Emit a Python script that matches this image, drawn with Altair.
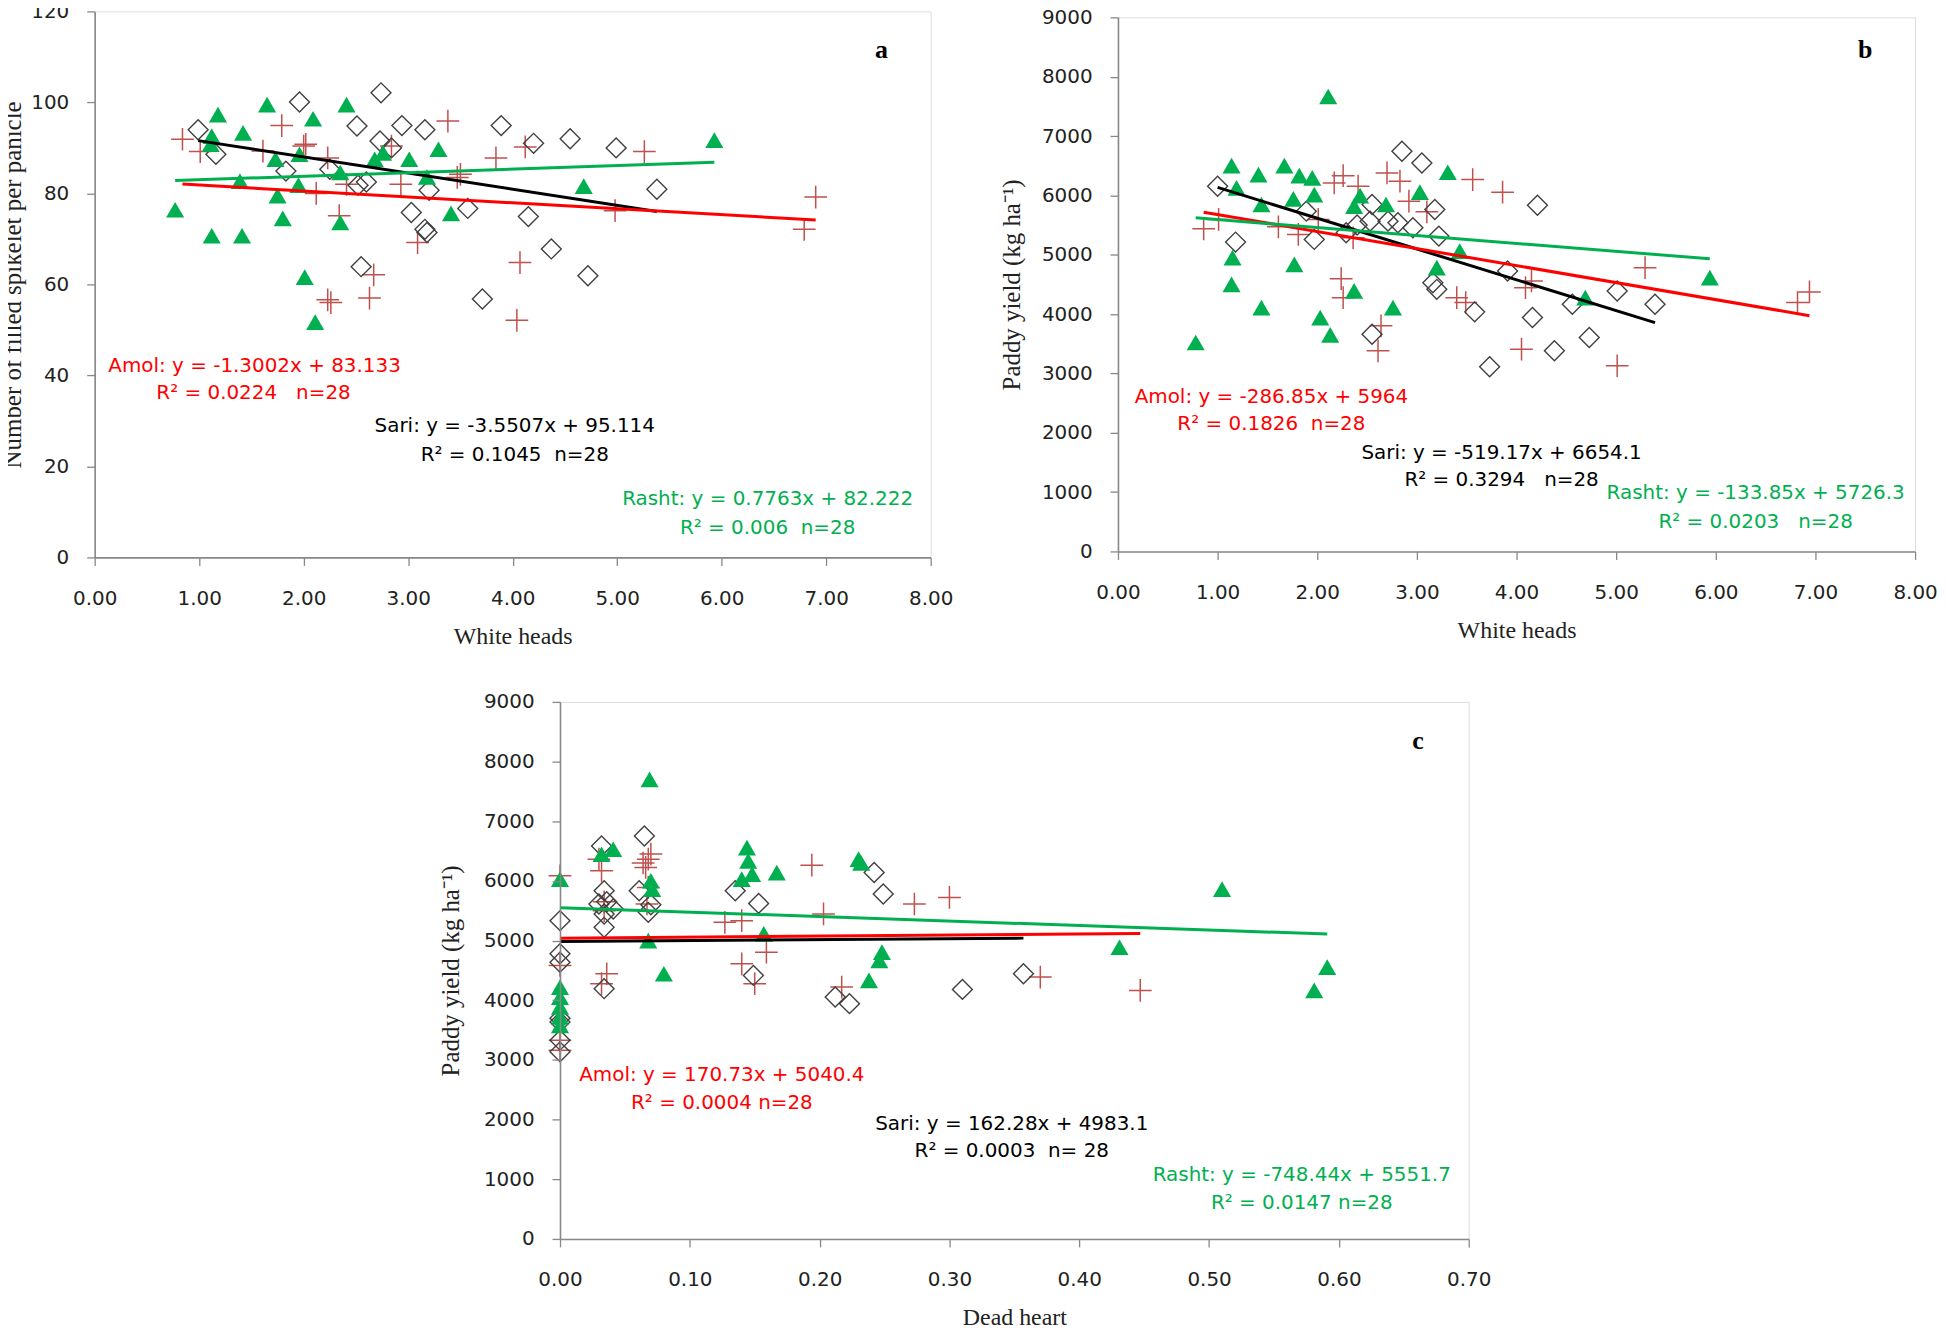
import altair as alt
import pandas as pd

# ---------------- data ----------------
# Panel a : White heads vs Number of filled spikelet per panicle
a_amol_x = [0.84, 1.01, 1.61, 1.79, 2.00, 2.02, 2.12, 2.23, 2.34, 2.23, 2.26, 2.41, 2.67, 2.63,
            2.84, 2.93, 3.09, 3.38, 3.50, 3.47, 3.84, 4.04, 4.07, 4.12, 4.98, 5.26, 6.79, 6.90]
a_amol_y = [91.9, 89.2, 89.3, 94.9, 90.4, 90.8, 80.0, 87.8, 75.1, 56.6, 56.0, 82.0, 62.1, 57.0,
            90.4, 82.0, 69.2, 95.9, 84.2, 83.5, 87.8, 52.1, 64.8, 90.2, 76.2, 89.2, 72.1, 79.2]
a_sari_x = [0.99, 1.16, 1.83, 1.96, 2.25, 2.51, 2.52, 2.55, 2.60, 2.73, 2.74, 2.84, 2.94, 3.03,
            3.16, 3.16, 3.18, 3.20, 3.57, 3.71, 3.89, 4.15, 4.20, 4.37, 4.55, 4.72, 4.99, 5.38]
a_sari_y = [94.0, 88.6, 84.9, 100.1, 85.3, 94.8, 81.8, 63.9, 82.5, 91.5, 102.1, 90.0, 94.9, 75.8,
            94.0, 72.1, 71.4, 80.7, 76.7, 56.8, 94.9, 74.9, 91.0, 67.8, 92.0, 61.9, 90.0, 80.9]
a_rasht_x = [0.77, 1.11, 1.12, 1.12, 1.18, 1.39, 1.41, 1.42, 1.65, 1.73, 1.75, 1.80, 1.95, 1.96,
             2.01, 2.09, 2.11, 2.35, 2.35, 2.41, 2.68, 2.76, 3.01, 3.18, 3.29, 3.41, 4.68, 5.93]
a_rasht_y = [76.4, 90.8, 92.6, 70.7, 97.3, 82.7, 70.7, 93.3, 99.5, 87.5, 79.5, 74.5, 81.8, 88.6,
             61.6, 96.4, 51.7, 84.6, 73.6, 99.5, 87.5, 88.9, 87.5, 83.6, 89.7, 75.6, 81.6, 91.7]

# Panel b : White heads vs Paddy yield
b_amol_x = [0.86, 1.01, 1.61, 1.81, 2.01, 2.17, 2.24, 2.26, 2.26, 2.36, 2.41, 2.61, 2.64, 2.70,
            2.83, 2.92, 3.10, 3.40, 3.49, 3.56, 3.86, 4.05, 4.09, 4.15, 5.01, 5.29, 6.82, 6.94]
b_amol_y = [5437, 5594, 5471, 5342, 5594, 6210, 4597, 6333, 4277, 5286, 6155, 3380, 3802, 6378,
            6239, 5903, 5723, 4277, 4193, 6266, 6054, 3409, 4445, 4558, 3129, 4782, 4193, 4373]
b_sari_x = [1.00, 1.18, 1.89, 1.97, 2.29, 2.40, 2.53, 2.55, 2.55, 2.71, 2.81, 2.85, 2.96, 3.05,
            3.16, 3.18, 3.20, 3.22, 3.58, 3.73, 3.91, 4.16, 4.21, 4.38, 4.56, 4.73, 5.01, 5.39]
b_sari_y = [6155, 5213, 5734, 5258, 5370, 5500, 5566, 5846, 3661, 5566, 5538, 6743, 5454, 6546,
            4529, 5761, 4417, 5314, 4037, 3113, 4726, 3941, 5835, 3381, 4165, 3605, 4390, 4165]
b_rasht_x = [0.78, 1.14, 1.14, 1.15, 1.19, 1.41, 1.44, 1.44, 1.67, 1.76, 1.77, 1.82, 1.95, 1.97,
             2.03, 2.11, 2.13, 2.37, 2.37, 2.43, 2.69, 2.76, 3.03, 3.20, 3.31, 3.43, 4.69, 5.94]
b_rasht_y = [3521, 6501, 4501, 4950, 6126, 6350, 5846, 4109, 6501, 5941, 4837, 6333, 6294, 6014,
             3941, 7667, 3650, 5818, 4390, 5997, 5846, 4109, 6054, 4782, 6390, 5062, 4277, 4613]

# Panel c : Dead heart vs Paddy yield
c_amol_x = [0, 0, 0, 0, 0.030, 0.032, 0.032, 0.034, 0.034, 0.036, 0.064, 0.066, 0.067, 0.068,
            0.068, 0.070, 0.127, 0.140, 0.140, 0.150, 0.159, 0.194, 0.203, 0.217, 0.273, 0.300, 0.370, 0.447]
c_amol_y = [6085, 4583, 3331, 3164, 6364, 6169, 4277, 5501, 5650, 4444, 6300, 6225, 5613, 6364,
            5890, 6450, 5306, 5334, 4611, 4277, 4805, 6264, 5446, 4221, 5613, 5723, 4388, 4165]
c_sari_x = [0, 0, 0, 0, 0, 0, 0, 0.030, 0.032, 0.034, 0.034, 0.034, 0.034, 0.036,
            0.041, 0.061, 0.065, 0.068, 0.070, 0.135, 0.149, 0.153, 0.212, 0.223, 0.242, 0.249, 0.310, 0.357]
c_sari_y = [5334, 4778, 4638, 3700, 3636, 3331, 3135, 5613, 6586, 5835, 5446, 5222, 4194, 5650,
            5529, 5835, 6753, 5473, 5600, 5835, 4416, 5623, 4054, 3943, 6140, 5780, 4182, 4444]
c_rasht_x = [0, 0, 0, 0, 0, 0, 0.032, 0.041, 0.068, 0.069, 0.070, 0.071, 0.080, 0.140,
             0.144, 0.145, 0.148, 0.157, 0.167, 0.230, 0.232, 0.238, 0.246, 0.248, 0.431, 0.510, 0.581, 0.591]
c_rasht_y = [6030, 4220, 4050, 3890, 3720, 3580, 6447, 6531, 5000, 7700, 6002, 5863, 4444, 6030,
             6558, 6336, 6114, 5112, 6140, 6364, 6300, 4332, 4666, 4805, 4888, 5863, 4165, 4554]

# regression equations printed on the figure (slope, intercept)
a_eq = {"Amol": (-1.3002, 83.133), "Sari": (-3.5507, 95.114), "Rasht": (0.7763, 82.222)}
b_eq = {"Amol": (-286.85, 5964.0), "Sari": (-519.17, 6654.1), "Rasht": (-133.85, 5726.3)}
c_eq = {"Amol": (170.73, 5040.4), "Sari": (162.28, 4983.1), "Rasht": (-748.44, 5551.7)}

NB = "\u00a0"
a_texts = ["Amol: y = -1.3002x + 83.133", "R² = 0.0224" + NB * 3 + "n=28",
           "Sari: y = -3.5507x + 95.114", "R² = 0.1045" + NB * 2 + "n=28",
           "Rasht: y = 0.7763x + 82.222", "R² = 0.006" + NB * 2 + "n=28"]
a_text_x = [1.53, 1.52, 4.02, 4.02, 6.44, 6.44]
a_text_y = [42.1, 36.2, 28.8, 22.6, 12.8, 6.5]
b_texts = ["Amol: y = -286.85x + 5964", "R² = 0.1826" + NB * 2 + "n=28",
           "Sari: y = -519.17x + 6654.1", "R² = 0.3294" + NB * 3 + "n=28",
           "Rasht: y = -133.85x + 5726.3", "R² = 0.0203" + NB * 3 + "n=28"]
b_text_x = [1.54, 1.54, 3.85, 3.85, 6.40, 6.40]
b_text_y = [2603, 2143, 1664, 1205, 976, 496]
c_texts = ["Amol: y = 170.73x + 5040.4", "R² = 0.0004 n=28",
           "Sari: y = 162.28x + 4983.1", "R² = 0.0003" + NB * 2 + "n= 28",
           "Rasht: y = -748.44x + 5551.7", "R² = 0.0147 n=28"]
c_text_x = [0.1247, 0.1247, 0.348, 0.348, 0.5714, 0.5714]
c_text_y = [2751, 2274, 1923, 1467, 1073, 596]

site_names = ["Amol", "Amol", "Sari", "Sari", "Rasht", "Rasht"]

# ---------------- styles ----------------
RED = "#FF0000"
GREEN = "#00B050"
PLUS_COL = "#C0504D"
DIAM_COL = "#404040"
TEXT_COL = {"Amol": RED, "Sari": "#000000", "Rasht": GREEN}
PLUS = "M-1,0L1,0M0,-1L0,1"


def panel(amol, sari, rasht, eq, xdom, xticks, ydom, yticks, xtitle, ytitle,
          texts, tx, ty, letter, lpos, width, height, ytitle_pad, yfmt):
    X = alt.X("x:Q", scale=alt.Scale(domain=xdom, nice=False, zero=False),
              axis=alt.Axis(values=xticks, format=".2f", title=xtitle, grid=False,
                            labelFont="DejaVu Sans", labelFontSize=20, labelColor="#222",
                            labelPadding=23, labelFlush=False, labelOverlap=False,
                            tickSize=8, tickColor="#888", tickWidth=1.3,
                            domainColor="#888", domainWidth=1.6,
                            titleFont="Liberation Serif", titleFontSize=24,
                            titleFontWeight="normal", titleColor="#222", titlePadding=16,
                            zindex=1))
    Y = alt.Y("y:Q", scale=alt.Scale(domain=ydom, nice=False, zero=False),
              axis=alt.Axis(values=yticks, format=yfmt, title=ytitle, grid=False,
                            labelFont="DejaVu Sans", labelFontSize=20, labelColor="#222",
                            labelPadding=18, labelFlush=False, labelOverlap=False,
                            tickSize=8, tickColor="#888", tickWidth=1.3,
                            domainColor="#888", domainWidth=1.6,
                            titleFont="Liberation Serif", titleFontSize=25,
                            titleFontWeight="normal", titleColor="#222",
                            titlePadding=ytitle_pad, zindex=1))

    d_amol = pd.DataFrame({"x": amol[0], "y": amol[1]})
    d_sari = pd.DataFrame({"x": sari[0], "y": sari[1]})
    d_rasht = pd.DataFrame({"x": rasht[0], "y": rasht[1]})

    pts_amol = alt.Chart(d_amol).mark_point(shape=PLUS, filled=False, size=520, strokeWidth=1.5,
                                            color=PLUS_COL, opacity=1).encode(x=X, y=Y)
    pts_sari = alt.Chart(d_sari).mark_point(shape="diamond", filled=False, size=400, strokeWidth=1.4,
                                            color=DIAM_COL, opacity=1).encode(x=X, y=Y)
    pts_rasht = alt.Chart(d_rasht).mark_point(shape="triangle-up", filled=True, size=330,
                                              color=GREEN, opacity=1).encode(x=X, y=Y)

    def reg(series, name, col):
        xs = [min(series[0]), max(series[0])]
        m, b = eq[name]
        df = pd.DataFrame({"x": xs, "y": [m * v + b for v in xs]})
        return alt.Chart(df).mark_line(color=col, strokeWidth=3).encode(x=X, y=Y)

    lines = [reg(sari, "Sari", "#000000"), reg(amol, "Amol", RED), reg(rasht, "Rasht", GREEN)]

    tdf = pd.DataFrame({"x": tx, "y": ty, "t": texts,
                        "c": [TEXT_COL[s] for s in site_names]})
    txt = alt.Chart(tdf).mark_text(font="DejaVu Sans", fontSize=20, align="center",
                                   baseline="middle").encode(
        x=X, y=Y, text="t:N", color=alt.Color("c:N", scale=None))

    ldf = pd.DataFrame({"x": [lpos[0]], "y": [lpos[1]], "t": [letter]})
    lab = alt.Chart(ldf).mark_text(font="Liberation Serif", fontSize=26, fontWeight="bold",
                                   color="#000", align="center", baseline="middle").encode(
        x=X, y=Y, text="t:N")

    return alt.layer(pts_amol, pts_sari, pts_rasht, *lines, txt, lab).properties(
        width=width, height=height)


ytitle_yield = "Paddy yield (kg ha\u207b\u00b9)"

pa = panel((a_amol_x, a_amol_y), (a_sari_x, a_sari_y), (a_rasht_x, a_rasht_y), a_eq,
           [0, 8], [0, 1, 2, 3, 4, 5, 6, 7, 8], [0, 120], [0, 20, 40, 60, 80, 100, 120],
           "White heads", "Number of filled spikelet per panicle",
           a_texts, a_text_x, a_text_y, "a", (7.53, 111.5), 839, 548, 5, "d")

pb = panel((b_amol_x, b_amol_y), (b_sari_x, b_sari_y), (b_rasht_x, b_rasht_y), b_eq,
           [0, 8], [0, 1, 2, 3, 4, 5, 6, 7, 8], [0, 9000], list(range(0, 9001, 1000)),
           "White heads", ytitle_yield,
           b_texts, b_text_x, b_text_y, "b", (7.50, 8445), 800, 536, 17, "d")

pc = panel((c_amol_x, c_amol_y), (c_sari_x, c_sari_y), (c_rasht_x, c_rasht_y), c_eq,
           [0, 0.7], [0, 0.1, 0.2, 0.3, 0.4, 0.5, 0.6, 0.7], [0, 9000], list(range(0, 9001, 1000)),
           "Dead heart", ytitle_yield,
           c_texts, c_text_x, c_text_y, "c", (0.661, 8339), 912, 539, 20, "d")

spacer = alt.Chart(pd.DataFrame({"x": [0]})).mark_point(opacity=0).encode(
    x=alt.X("x:Q", axis=None), y=alt.Y("x:Q", axis=None)
).properties(width=457, height=539, view=alt.ViewBackground(stroke="transparent", strokeWidth=0))

top = alt.hconcat(pa, pb, spacing=188, center=True, bounds="flush")
bottom = alt.hconcat(spacer, pc, spacing=10, bounds="flush")

chart = alt.vconcat(top, bottom, spacing=42, bounds="full").properties(
    padding={"left": -8, "top": -10, "right": 0, "bottom": 0}
).configure_view(stroke="#333", strokeWidth=1.6).configure(background="white")

chart.save("out.html", embed_options={"renderer": "svg", "actions": False})
